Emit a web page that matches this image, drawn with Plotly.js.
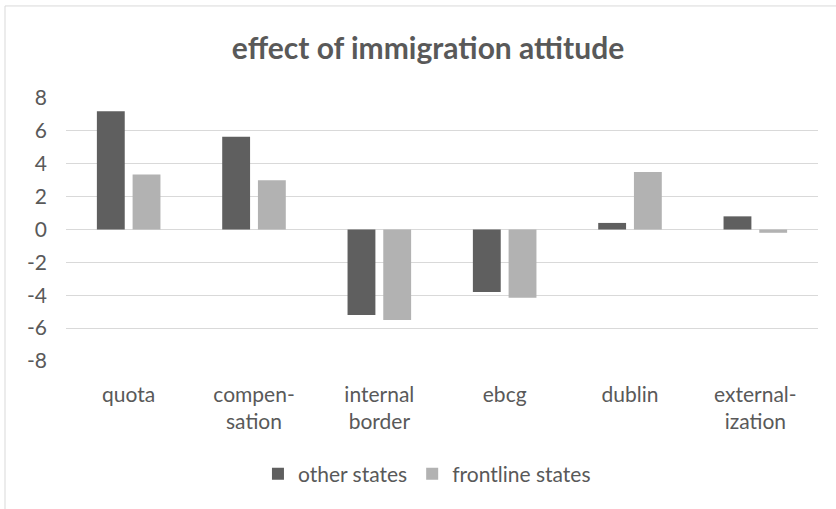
<!DOCTYPE html>
<html>
<head>
<meta charset="utf-8">
<script src="https://cdn.plot.ly/plotly-3.0.1.min.js"></script>
<style>body{margin:0;padding:0;background:#fff;} #chart{width:836px;height:509px;}</style>
</head>
<body>
<div id="chart"></div>
<script>
const categories = ["quota", "compen-<br>sation", "internal<br>border", "ebcg", "dublin", "external-<br>ization"];
const otherStates = [7.2, 5.65, -5.2, -3.8, 0.4, 0.8];
const frontlineStates = [3.35, 3.0, -5.5, -4.15, 3.5, -0.2];
const yTicks = [-8, -6, -4, -2, 0, 2, 4, 6, 8];

const font = "Lato, sans-serif";
const traces = [
  {type: "bar", name: "other states", x: categories, y: otherStates, marker: {color: "#5f5f5f"}},
  {type: "bar", name: "frontline states", x: categories, y: frontlineStates, marker: {color: "#b2b2b2"}}
];
const layout = {
  width: 836, height: 509,
  margin: {l: 66, r: 18, t: 98, b: 148},
  paper_bgcolor: "#fff", plot_bgcolor: "#fff",
  font: {family: font, color: "#595959", size: 21},
  title: {text: "<b>effect of immigration attitude</b>", x: 0.512, xanchor: "center", y: 0.905, yanchor: "middle",
          font: {family: font, size: 30, color: "#595959"}},
  barmode: "group", bargap: 0.43, bargroupgap: 0.22,
  showlegend: true,
  legend: {orientation: "h", x: 0.48, xanchor: "center", y: -0.43, yanchor: "middle", font: {size: 21, color: "#595959"}, traceorder: "normal", itemwidth: 30},
  xaxis: {type: "category", showgrid: false, showline: false, ticks: "", tickfont: {size: 21, color: "#595959"}, ticklabelstandoff: 19, automargin: false},
  yaxis: {range: [-8, 8], tickvals: yTicks, ticktext: yTicks.map(String), showgrid: true, gridcolor: "#d9d9d9", gridwidth: 1,
          zeroline: true, zerolinecolor: "#d9d9d9", zerolinewidth: 1, showline: false, ticks: "",
          tickfont: {size: 21, color: "#595959"}, ticklabelstandoff: 18, automargin: false},
  shapes: [
    {type: "line", xref: "paper", yref: "paper", x0: -0.0811, x1: -0.0811, y0: 1.35, y1: -0.6, line: {color: "#d9d9d9", width: 1}},
    {type: "line", xref: "paper", yref: "paper", x0: -0.0811, x1: 1.1, y0: 1.35, y1: 1.35, line: {color: "#d9d9d9", width: 1}}
  ]
};
Plotly.newPlot("chart", traces, layout, {displayModeBar: false, staticPlot: true});
</script>
</body>
</html>
